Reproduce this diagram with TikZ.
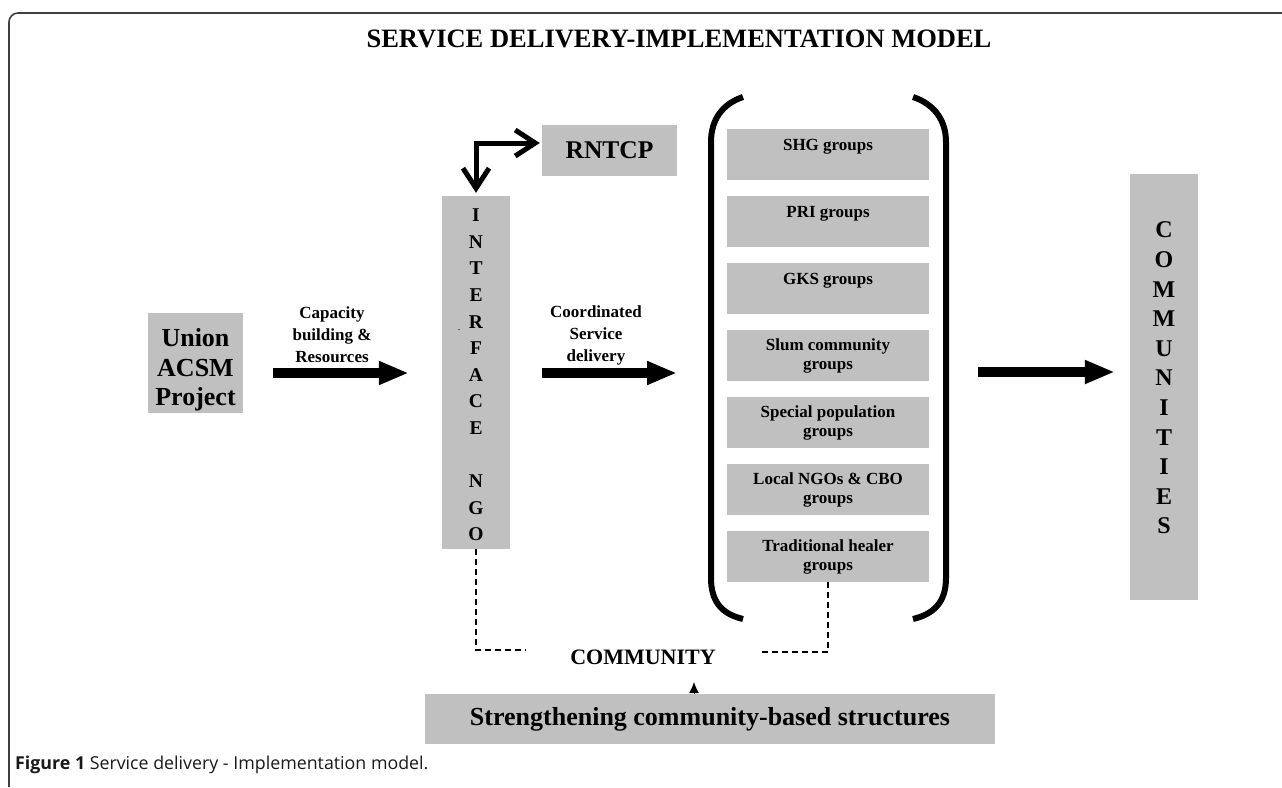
\documentclass[tikz,border=0pt]{standalone}
\usepackage{fontspec}
\setmainfont{Liberation Serif}
\newfontfamily\capfont{Open Sans}
\usetikzlibrary{arrows.meta}
\definecolor{boxgray}{RGB}{192,192,192}
\newcommand\fsz[2]{\fontsize{#1}{#2}\selectfont}
\begin{document}
\begin{tikzpicture}[x=1pt,y=-1pt,
  gbox/.style={fill=boxgray, draw=none, inner sep=0pt},
  lbl/.style={align=center, inner sep=0pt},
  grp/.style={gbox, minimum width=202pt, minimum height=51pt, align=center, font=\fsz{17}{19}\bfseries},
  bigarrow/.style={line width=9.5pt, -{Triangle[length=30pt,width=22pt]}},
  elbow/.style={line width=5pt, {Straight Barb[length=20pt,width=26pt]}-{Straight Barb[length=20pt,width=26pt]}},
  bracket/.style={line width=6pt, line cap=butt},
  dline/.style={line width=1.3pt, dash pattern=on 6pt off 4pt}
]
\useasboundingbox (0,0) rectangle (1282,787);
% frame
\draw[line width=1.6pt, black!75, rounded corners=9pt] (9,787) -- (9,13) -- (1282,13);
% title
\node[lbl, font=\fsz{26.5}{28}\bfseries] (title) at (679,39) {SERVICE DELIVERY-IMPLEMENTATION MODEL};
% Union box
\node[gbox, minimum width=95pt, minimum height=100pt] (union) at (195.5,363) {};
\node[lbl, font=\fsz{26}{29.5}\bfseries] (uniontxt) at (195.5,370) {Union\\ACSM\\Project};
% RNTCP
\node[gbox, minimum width=135pt, minimum height=51pt, font=\fsz{25.5}{28}\bfseries] (rntcp) at (609.5,150.5) {RNTCP};
% Interface NGO
\node[gbox, minimum width=68pt, minimum height=353pt] (iface) at (476,372.5) {};
\node[lbl, font=\fsz{19.5}{26.6}\bfseries] (ifacetxt) at (476,375) {I\\N\\T\\E\\R\\F\\A\\C\\E\\\mbox{}\\N\\G\\O};
\node[lbl, font=\fsz{10}{10}] (dot) at (459,330) {.};
% Communities
\node[gbox, minimum width=68pt, minimum height=426pt] (commbox) at (1164,387) {};
\node[lbl, font=\fsz{24}{29.6}\bfseries] (commtxt) at (1164,378) {C\\O\\M\\M\\U\\N\\I\\T\\I\\E\\S};
% groups
\node[grp] (shg) at (828,154.5) {SHG groups\\\mbox{}};
\node[grp] (pri) at (828,221.5) {PRI groups\\\mbox{}};
\node[grp] (gks) at (828,288.5) {GKS groups\\\mbox{}};
\node[grp] (slum) at (828,355.5) {Slum community\\groups};
\node[grp] (spec) at (828,422.5) {Special population\\groups};
\node[grp] (local) at (828,489.5) {Local NGOs \& CBO\\groups};
\node[grp] (trad) at (828,556.5) {Traditional healer\\groups};
% brackets
\draw[bracket] (743,97) .. controls (722,104) and (711,120) .. (711,142) -- (711,578) .. controls (711,602) and (722,614) .. (743,619);
\draw[bracket] (913,97) .. controls (934,104) and (946,120) .. (946,142) -- (946,578) .. controls (946,602) and (934,614) .. (913,619);
% arrow labels
\node[lbl, font=\fsz{17}{22}\bfseries] (lab1) at (332,335) {Capacity\\building \&\\Resources};
\node[lbl, font=\fsz{17}{22}\bfseries] (lab2) at (596,335) {Coordinated\\Service\\delivery};
% big arrows
\coordinate (lb) at (708,373);
\coordinate (rb) at (949,372);
\draw[bigarrow, shorten <=30pt, shorten >=33pt] (union.east |- lb) -- (iface.west |- lb);
\draw[bigarrow, shorten <=32pt, shorten >=31pt] (iface.east |- lb) -- (lb);
\draw[bigarrow, shorten <=29pt, shorten >=15pt] (rb) -- (commbox.west |- rb);
% elbow arrow
\coordinate (corner) at (476,143);
\draw[elbow, shorten <=3pt, shorten >=2pt] (iface.north) -- (corner) -- (rntcp.west |- corner);
% community
\node[lbl, font=\fsz{22}{24}\bfseries] (community) at (643,657) {COMMUNITY};
\coordinate (dl) at (526,650);
\coordinate (dr) at (761,652);
\draw[dline] (iface.south) |- (dl);
\draw[dline] (trad.south) |- (dr);
% strengthening
\node[gbox, minimum width=570pt, minimum height=50pt, font=\fsz{26}{28}\bfseries] (strength) at (710,719) {Strengthening community-based structures};
\coordinate (cup) at (694,682);
\draw[line width=1pt, -{Latex[length=11pt,width=10pt]}] (strength.north -| cup) -- (cup);
% caption
\node[anchor=base west, inner sep=0pt, font=\capfont\fsz{17.8}{20}, text=black!90] (caption) at (15,769) {\textbf{Figure 1} Service delivery - Implementation model.};
\end{tikzpicture}
\end{document}
